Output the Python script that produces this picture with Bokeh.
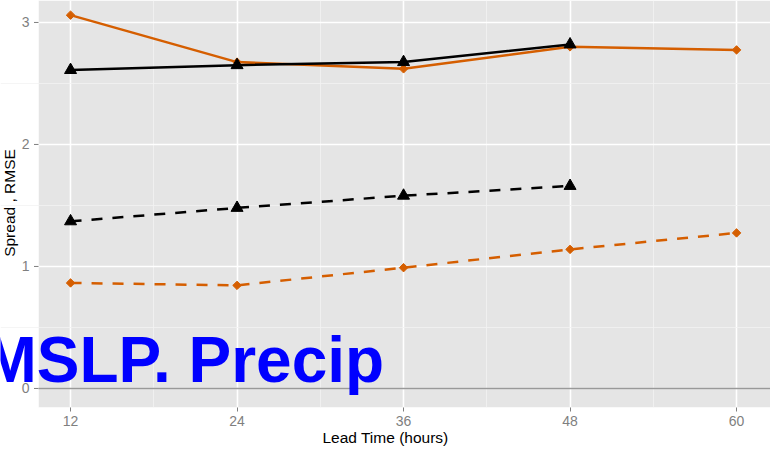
from bokeh.plotting import figure
from bokeh.models import FixedTicker, Range1d
from bokeh.core.properties import value
from bokeh.embed import file_html
from bokeh.resources import INLINE
import math

# ---- data ----
lead = [12, 24, 36, 48, 60]
rmse_orange = [3.06, 2.675, 2.62, 2.80, 2.775]
spread_orange = [0.865, 0.845, 0.99, 1.14, 1.275]
lead_black = [12, 24, 36, 48]
rmse_black = [2.61, 2.65, 2.675, 2.82]
spread_black = [1.37, 1.48, 1.58, 1.66]

x_ticks = [12, 24, 36, 48, 60]
x_minor = [18, 30, 42, 54]
y_ticks = [0, 1, 2, 3]
y_tick_labels = ["0", "1", "2", "3"]
y_minor = [0.5, 1.5, 2.5]

ORANGE = "#D55E00"
GREY_TXT = "#7F7F7F"
FONT = "Liberation Sans"

# ---- layout (pixels) ----
W, H = 770, 449
PANEL_LEFT_PX = 38          # where the grey panel starts inside the figure
PX_PER_X = 13.875
PANEL_X0 = 9.69             # data x at panel's left edge
Y_LO, Y_HI = -0.156, 3.18

x_start = PANEL_X0 - PANEL_LEFT_PX / PX_PER_X
x_end = x_start + W / PX_PER_X


def xd(px):
    """figure pixel -> data x"""
    return x_start + px / PX_PER_X


p = figure(width=W, height=H, output_backend="svg", toolbar_location=None,
           x_range=Range1d(x_start, x_end), y_range=Range1d(Y_LO, Y_HI),
           y_axis_location=None,
           min_border_left=0, min_border_right=0, min_border_top=0, min_border_bottom=42)
p.outline_line_color = None
p.background_fill_color = "white"
p.border_fill_color = "white"

p.xaxis.ticker = FixedTicker(ticks=x_ticks, minor_ticks=x_minor)
p.ygrid.ticker = FixedTicker(ticks=y_ticks, minor_ticks=y_minor)

for g in (p.xgrid, p.ygrid):
    g.grid_line_color = "white"
    g.grid_line_width = 1.6
    g.minor_grid_line_color = "#F2F2F2"
    g.minor_grid_line_width = 0.8

ax = p.xaxis
ax.axis_line_color = None
ax.major_tick_line_color = GREY_TXT
ax.major_tick_in = 0
ax.major_tick_out = 4
ax.minor_tick_line_color = None
ax.major_label_text_color = GREY_TXT
ax.major_label_text_font = FONT
ax.major_label_text_font_size = "14px"
ax.major_label_standoff = 4
ax.axis_label = "Lead Time (hours)"
ax.axis_label_text_font = FONT
ax.axis_label_text_font_size = "15.5px"
ax.axis_label_text_font_style = "normal"
ax.axis_label_text_color = "black"
ax.axis_label_standoff = 0

# grey panel (below the grid) and white cover for the area left of the panel
p.quad(left=[PANEL_X0], right=[x_end], bottom=[Y_LO], top=[Y_HI],
       fill_color="#E5E5E5", line_color=None, level="image")
p.quad(left=[x_start], right=[PANEL_X0], bottom=[Y_LO], top=[Y_HI],
       fill_color="white", line_color=None, level="underlay")

# y axis: ticks, labels, title
n = len(y_ticks)
p.segment(x0=[xd(33.5)] * n, y0=y_ticks, x1=[PANEL_X0] * n, y1=y_ticks,
          line_color=GREY_TXT, line_width=1)
p.text(x=[xd(29)] * n, y=y_ticks, text=y_tick_labels, text_align="right",
       text_baseline="middle", text_color=GREY_TXT, text_font=value(FONT),
       text_font_size="14px")
p.text(x=[xd(9)], y=[1.52], text=["Spread , RMSE"], angle=math.pi / 2,
       text_align="center", text_baseline="middle", text_color="black",
       text_font=value(FONT), text_font_size="15.5px")

# zero reference line
p.segment(x0=[PANEL_X0], y0=[0], x1=[x_end], y1=[0], line_color="#999999", line_width=1.5)

# series
p.line(lead, rmse_orange, line_color=ORANGE, line_width=2.5)
p.line(lead, spread_orange, line_color=ORANGE, line_width=2.5, line_dash="11 10")
p.line(lead_black, rmse_black, line_color="black", line_width=2.5)
p.line(lead_black, spread_black, line_color="black", line_width=2.5, line_dash="11 10")

p.scatter(lead, rmse_orange, marker="square", angle=math.pi / 4, size=6,
          fill_color=ORANGE, line_color=ORANGE, line_width=1)
p.scatter(lead, spread_orange, marker="square", angle=math.pi / 4, size=6,
          fill_color=ORANGE, line_color=ORANGE, line_width=1)
p.scatter(lead_black, rmse_black, marker="triangle", size=12,
          fill_color="black", line_color="black")
p.scatter(lead_black, spread_black, marker="triangle", size=12,
          fill_color="black", line_color="black")

# big annotation
p.text(x=[34.6], y=[0.235], text=["MSLP. Precip"], text_align="right",
       text_baseline="alphabetic", text_color="#0000FF",
       text_font=value(FONT), text_font_style="bold", text_font_size="64px")

open("out.html", "w").write(file_html(p, INLINE))
